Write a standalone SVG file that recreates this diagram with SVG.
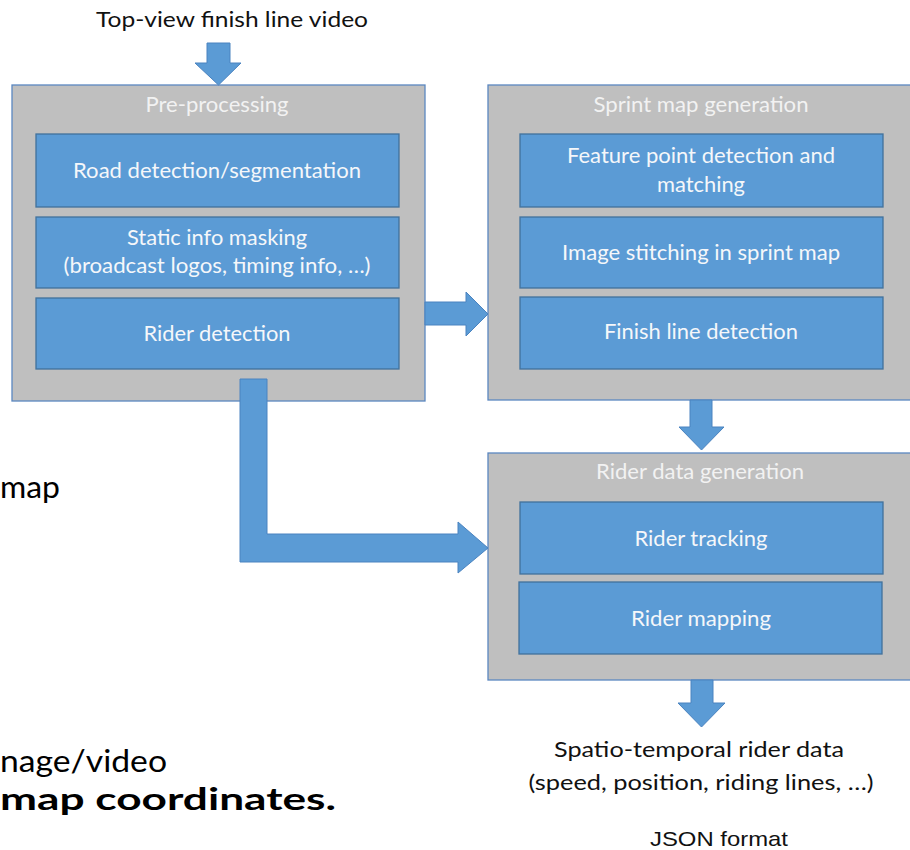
<svg xmlns="http://www.w3.org/2000/svg" width="910" height="850" viewBox="0 0 910 850">
<style>
.outer{fill:#bfbfbf;stroke:#5b87c0;stroke-width:1.3}
.inner{fill:#5b9bd5;stroke:#41719c;stroke-width:1.3}
.title{font-family:Lato,"Open Sans",sans-serif;font-size:21px;fill:#f2f2f2;text-anchor:middle}
.lbl{font-family:Lato,"Open Sans",sans-serif;font-size:21px;fill:#f5f7fa;text-anchor:middle}
.ext{font-family:Lato,"Open Sans",sans-serif;font-size:21px;fill:#111;text-anchor:middle}
.side{font-family:Lato,"Noto Sans",sans-serif;font-size:31px;fill:#000}
.arrow{fill:#5b9bd5;stroke:#4a83c0;stroke-width:1}
</style>
<rect width="910" height="850" fill="#ffffff"/>
<g id="side-text">
<text class="side" x="0" y="498" textLength="60" lengthAdjust="spacingAndGlyphs">map</text>
<text class="side" x="0" y="772" textLength="167" lengthAdjust="spacingAndGlyphs">nage/video</text>
<text class="side" x="0" y="810" font-weight="bold" textLength="336" lengthAdjust="spacingAndGlyphs">map coordinates.</text>
</g>
<g id="input">
<text class="ext" x="232" y="27" textLength="272" lengthAdjust="spacingAndGlyphs">Top-view finish line video</text>
</g>
<g id="preprocessing">
<rect class="outer" x="12" y="85" width="413" height="316"/>
<text class="title" x="217" y="112" textLength="143" lengthAdjust="spacingAndGlyphs">Pre-processing</text>
<rect class="inner" x="36" y="134" width="363" height="73"/>
<text class="lbl" x="217" y="178" textLength="288" lengthAdjust="spacingAndGlyphs">Road detection/segmentation</text>
<rect class="inner" x="36" y="217" width="363" height="71"/>
<text class="lbl" x="217" y="245" textLength="180" lengthAdjust="spacingAndGlyphs">Static info masking</text>
<text class="lbl" x="217" y="273" textLength="307" lengthAdjust="spacingAndGlyphs">(broadcast logos, timing info, …)</text>
<rect class="inner" x="36" y="298" width="363" height="71"/>
<text class="lbl" x="217" y="341" textLength="147" lengthAdjust="spacingAndGlyphs">Rider detection</text>
</g>
<g id="sprintmap">
<rect class="outer" x="488" y="85" width="430" height="315"/>
<text class="title" x="701" y="112" textLength="215" lengthAdjust="spacingAndGlyphs">Sprint map generation</text>
<rect class="inner" x="520" y="134" width="363" height="73"/>
<text class="lbl" x="701" y="163" textLength="268" lengthAdjust="spacingAndGlyphs">Feature point detection and</text>
<text class="lbl" x="701" y="192" textLength="88" lengthAdjust="spacingAndGlyphs">matching</text>
<rect class="inner" x="520" y="217" width="363" height="71"/>
<text class="lbl" x="701" y="260" textLength="278" lengthAdjust="spacingAndGlyphs">Image stitching in sprint map</text>
<rect class="inner" x="520" y="297" width="363" height="72"/>
<text class="lbl" x="701" y="339" textLength="194" lengthAdjust="spacingAndGlyphs">Finish line detection</text>
</g>
<g id="riderdata">
<rect class="outer" x="488" y="453" width="430" height="227"/>
<text class="title" x="700" y="479" textLength="208" lengthAdjust="spacingAndGlyphs">Rider data generation</text>
<rect class="inner" x="520" y="502" width="363" height="72"/>
<text class="lbl" x="701" y="546" textLength="133" lengthAdjust="spacingAndGlyphs">Rider tracking</text>
<rect class="inner" x="519" y="582" width="363" height="72"/>
<text class="lbl" x="701" y="626" textLength="140" lengthAdjust="spacingAndGlyphs">Rider mapping</text>
</g>
<g id="output">
<text class="ext" x="699" y="757" textLength="290" lengthAdjust="spacingAndGlyphs">Spatio-temporal rider data</text>
<text class="ext" x="701" y="790" textLength="345" lengthAdjust="spacingAndGlyphs">(speed, position, riding lines, …)</text>
<text x="719" y="846" font-family="'Liberation Sans',Arial,sans-serif" font-size="21" fill="#111" text-anchor="middle" textLength="138" lengthAdjust="spacingAndGlyphs">JSON format</text>
</g>
<g id="connectors">
<polygon class="arrow" points="207,43 230,43 230,63 241,63 218.5,85 195,63 207,63"/>
<polygon class="arrow" points="425,302 466,302 466,292 488,314 466,336 466,325 425,325"/>
<polygon class="arrow" points="240,379 267,379 267,534 458,534 458,522 488,548 458,573 458,562 240,562"/>
<polygon class="arrow" points="690,400 712,400 712,427 724,427 701.5,450 679,427 690,427"/>
<polygon class="arrow" points="691,680 713,680 713,703 725,703 701.5,727 678,703 691,703"/>
</g>
</svg>
